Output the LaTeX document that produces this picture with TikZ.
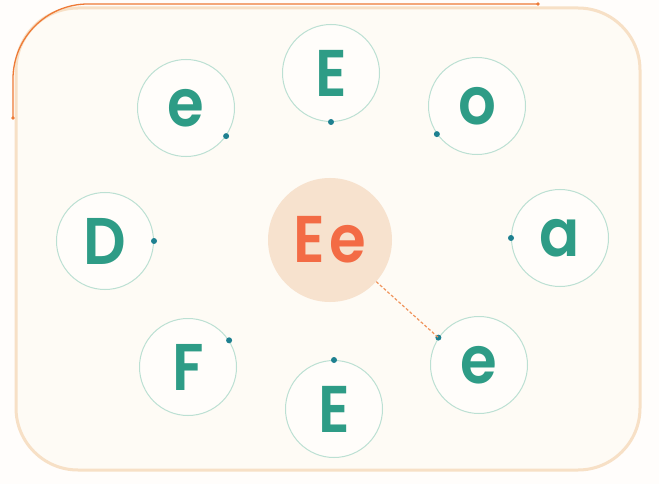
\documentclass[tikz,border=0pt]{standalone}
\usepackage{fontspec}
\setmainfont{Poppins}
\newfontfamily\letterfont{Poppins SemiBold}[FakeStretch=0.9]
\usepackage{xcolor}
\usepackage{tikz}
\usetikzlibrary{arrows.meta,positioning,calc}
\definecolor{tealink}{HTML}{2E9C86}
\definecolor{ringteal}{HTML}{BCE0D3}
\definecolor{dotteal}{HTML}{1E8090}
\definecolor{hubfill}{HTML}{F7E2CE}
\definecolor{hubink}{HTML}{F36B45}
\definecolor{framefill}{HTML}{FEFBF5}
\definecolor{framedraw}{HTML}{F7E0C6}
\definecolor{trailorange}{HTML}{EE7A36}
\tikzset{
  orbitnode/.style={
    circle, draw=ringteal, line width=1pt, fill=white!50!framefill,
    minimum size=97pt, inner sep=0pt, text=tealink,
    font=\letterfont\fontsize{66}{66}\selectfont
  },
  hubnode/.style={
    circle, fill=hubfill, minimum size=124pt, inner sep=0pt,
    text=hubink, font=\letterfont\fontsize{66}{66}\selectfont
  },
  orbitdot/.style={fill=dotteal},
  linkdash/.style={
    dashed, dash pattern=on 3pt off 2pt, line width=1.2pt, color=trailorange!75!hubfill
  },
  framebox/.style={
    draw=framedraw, fill=framefill, line width=3pt, rounded corners=62pt
  },
  trailline/.style={
    draw=trailorange, line width=1.3pt, rounded corners=75pt
  },
}

\begin{document}
\begin{tikzpicture}[x=1pt,y=-1pt]
  \useasboundingbox[fill=white!60!framefill] (0,0) rectangle (659,484);

  % Frame
  \path[framebox] (16,8) rectangle (640,470);
  \coordinate (trailstart) at (13,118);
  \coordinate (trailend) at (538,4);
  \draw[trailline] (trailstart) |- (trailend);
  \fill[trailorange] (trailstart) circle (1.8pt);
  \fill[trailorange] (trailend) circle (1.8pt);

  % Hub
  \node[hubnode] (hub) at (330,240) {E\kern5pt e};

  % Satellites with their dots
  \foreach \name/\x/\y/\letter/\ang in {
      sat1/186/108/e/-35, sat2/331/73/E/-90, sat3/477/106/o/-145,
      sat4/105/241/D/0, sat5/560/238/a/180, sat6/188/367/F/33,
      sat7/334/409/E/90, sat8/479/365/e/146} {
    \node[orbitnode] (\name) at (\x,\y) {\letter};
    \coordinate (\name dot) at (\name.\ang);
    \fill[orbitdot] (\name dot) circle (3pt);
  }

  % Link
  \draw[linkdash] (hub) -- (sat8dot);
\end{tikzpicture}
\end{document}
